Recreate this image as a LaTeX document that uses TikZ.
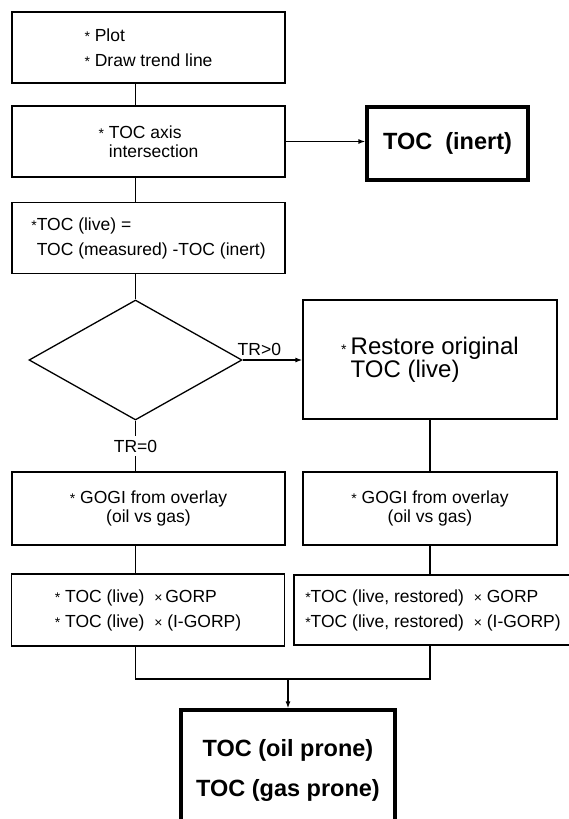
\documentclass[tikz,border=0pt]{standalone}
\usepackage{fontspec}
\setmainfont{Liberation Sans}
\usepackage{tikz}
\usetikzlibrary{shapes.geometric,arrows.meta}
\newcommand{\tstar}{\raisebox{0pt}{\fontsize{14}{14}\selectfont *}}
\newcommand{\tms}{{\fontsize{14}{14}\selectfont ×}}
\tikzstyle{box} = [draw, line width=1.3pt, minimum width=273pt, minimum height=71pt, inner sep=0pt, align=left, font={\fontsize{17.5}{25}\selectfont}]
\tikzstyle{tight} = [font={\fontsize{17.5}{19}\selectfont}]
\tikzstyle{wide} = [minimum width=254pt]
\tikzstyle{result} = [box, line width=3.2pt, align=center, font={\bfseries\fontsize{23.5}{40}\selectfont}]
\tikzstyle{lbl} = [font={\fontsize{17.5}{19}\selectfont}]

\begin{document}
\begin{tikzpicture}[x=1pt, y=-1pt, line width=1.3pt, >={Latex[length=7pt,width=5pt]}]
    \useasboundingbox (0,0) rectangle (568,819);
    \node[box](1) at (148.5,47.5){\tstar\ Plot\\\tstar\ Draw trend line};
    \node[box,tight](2) at (148.5,141.5){\tstar\ TOC axis\\\hphantom{\tstar\ }intersection};
    \node[result,minimum width=161pt,minimum height=73pt](i) at (447.5,143.5){TOC\ \ (inert)};
    \node[box](3) at (148.5,238){\tstar TOC (live) =\\\hphantom{\tstar}TOC (measured) -TOC (inert)};
    \node[diamond,draw,minimum width=213pt,minimum height=120pt,inner sep=0pt](d) at (135.5,360){};
    \node[box,wide,minimum height=119pt,font={\fontsize{24}{23}\selectfont}](r) at (430,359.5){\tstar\,Restore original\\\hphantom{\tstar\,}TOC (live)};
    \node[box,tight,align=center,minimum height=73pt](g1) at (148.5,508.5){\tstar\ GOGI from overlay\\(oil vs gas)};
    \node[box,tight,wide,align=center,minimum height=73pt](g2) at (430,508.5){\tstar\ GOGI from overlay\\(oil vs gas)};
    \node[box,minimum height=72pt](t1) at (148,610){\tstar\ TOC (live) \ \tms\,GORP\\\tstar\ TOC (live) \ \tms\ (I-GORP)};
    \node[box,minimum width=278pt,minimum height=70pt](t2) at (433,610){\tstar TOC (live, restored) \ \tms\ GORP\\\tstar TOC (live, restored) \ \tms\ (I-GORP)};
    \node[result,minimum width=214pt,minimum height=120pt](f) at (288,770){TOC (oil prone)\\TOC (gas prone)};
    \coordinate (m) at (288,679);
    \draw (d.north |- 1.south)--(d.north |- 2.north);
    \draw (d.north |- 2.south)--(d.north |- 3.north);
    \draw[->](2.east)--(2.east -| i.west);
    \draw (d.north |- 3.south)--(d.north);
    \draw[->](d.east)--(d.east -| r.west) node[lbl,pos=0.28,above]{TR>0};
    \draw (d.south)--(d.south |- g1.north) node[lbl,midway,fill=white]{TR=0};
    \draw (r.south)--(g2.north);
    \draw (d.south |- g1.south)--(d.south |- t1.north);
    \draw (g2.south)--(g2.south |- t2.north);
    \draw (d.south |- t1.south) |- (m) -| (g2.south |- t2.south);
    \draw[->](m)--(f.north);
  \end{tikzpicture}
\end{document}
